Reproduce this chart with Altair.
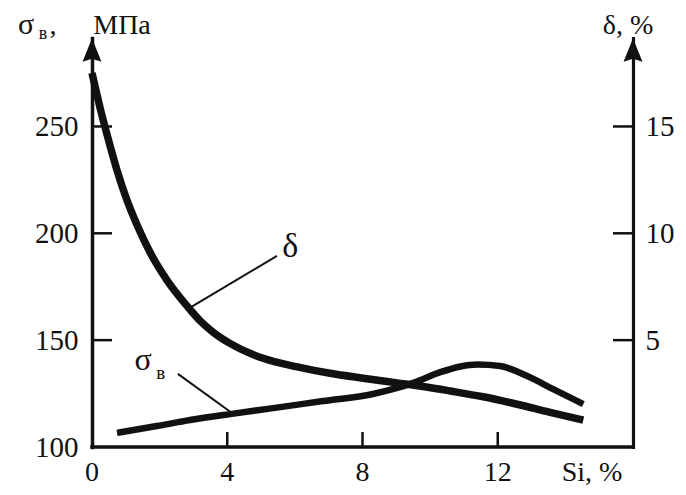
import altair as alt
import pandas as pd

# ---- data ----
si_delta = [0.0, 0.25, 0.5, 0.75, 1.0, 1.33, 1.72, 2.22, 2.81, 3.2, 3.6, 4.08, 5.06,
            6.07, 7.04, 8.02, 9.02, 9.79, 10.6, 11.57, 12.57, 13.55, 14.53]
delta = [17.5, 15.8, 14.3, 12.9, 11.7, 10.4, 9.1, 7.8, 6.6, 5.9, 5.35, 4.85, 4.15,
         3.75, 3.45, 3.22, 3.0, 2.83, 2.62, 2.35, 2.0, 1.62, 1.26]
si_sigma = [0.74, 1.92, 2.9, 4.08, 5.36, 6.83, 8.31, 9.0, 9.5, 10.3, 10.9, 11.4,
            12.07, 12.87, 13.64, 14.53]
sigma = [106.6, 109.8, 112.6, 115.4, 118.2, 121.5, 124.8, 127.5, 130.0, 135.0,
         137.7, 138.6, 137.9, 133.2, 127.1, 120.1]

x_ticks = [0, 4, 8, 12]
x_tick_marks = [4, 8, 12]
sigma_ticks = [100, 150, 200, 250]
sigma_tick_marks = [150, 200, 250]
delta_ticks = [5, 10, 15]

# annotation leader lines (data coordinates) and labels
lead_x1 = [5.47, 2.54]
lead_s1 = [189.4, 134.2]
lead_x2 = [2.84, 4.14]
lead_s2 = [164.6, 115.9]

X_DOM = [0, 16]
S_DOM = [100, 291.4]
D_DOM = [0, 19.14]
W, H = 541, 409
FONT = "Liberation Serif"
INK = "#111111"

xs = alt.Scale(domain=X_DOM, nice=False, zero=False)
ss = alt.Scale(domain=S_DOM, nice=False, zero=False)
ds = alt.Scale(domain=D_DOM, nice=False, zero=False)

sig_df = pd.DataFrame({"si": si_sigma, "v": sigma})
del_df = pd.DataFrame({"si": si_delta, "v": delta})

s_axis = alt.Axis(values=sigma_ticks, title=None, ticks=False, tickSize=0, grid=False,
                  domainColor=INK, domainWidth=3.5, domainCap="square",
                  labelFont=FONT, labelFontSize=29, labelColor=INK, labelPadding=14,
                  labelFlush=False, labelOverlap=False)
d_axis = alt.Axis(values=delta_ticks, title=None, ticks=False, tickSize=0, grid=False,
                  orient="right", domainColor=INK, domainWidth=3.2, domainCap="square",
                  labelFont=FONT, labelFontSize=29, labelColor=INK, labelPadding=12,
                  labelFlush=False, labelOverlap=False)

sig_line = alt.Chart(sig_df).mark_line(color=INK, strokeWidth=6.5, interpolate="monotone",
                                       strokeCap="butt").encode(
    x=alt.X("si:Q", scale=xs, axis=None),
    y=alt.Y("v:Q", scale=ss, axis=s_axis),
)
del_line = alt.Chart(del_df).mark_line(color=INK, strokeWidth=7.5, interpolate="monotone",
                                       strokeCap="butt").encode(
    x=alt.X("si:Q", scale=xs, axis=None),
    y=alt.Y("v:Q", scale=ds, axis=d_axis),
)

# bottom axis drawn by hand (domain line, inward ticks, labels)
x_domain = alt.Chart(pd.DataFrame({"a": [0]})).mark_rule(
    color=INK, strokeWidth=3.5, strokeCap="square").encode(
    x=alt.value(0), x2=alt.value(W), y=alt.value(H))
x_labels = alt.Chart(pd.DataFrame({"si": x_ticks})).mark_text(
    font=FONT, fontSize=28, color=INK, baseline="alphabetic", align="center").encode(
    x=alt.X("si:Q", scale=xs, axis=None), y=alt.value(H + 34), text="si:Q")

left_ticks = alt.Chart(pd.DataFrame({"v": sigma_tick_marks})).mark_rule(
    color=INK, strokeWidth=2.5).encode(
    y=alt.Y("v:Q", scale=ss, axis=None), x=alt.value(0), x2=alt.value(20))
right_ticks = alt.Chart(pd.DataFrame({"v": delta_ticks})).mark_rule(
    color=INK, strokeWidth=2.5).encode(
    y=alt.Y("v:Q", scale=ds, axis=None), x=alt.value(W - 20), x2=alt.value(W))
bottom_ticks = alt.Chart(pd.DataFrame({"si": x_tick_marks})).mark_rule(
    color=INK, strokeWidth=2.5).encode(
    x=alt.X("si:Q", scale=xs, axis=None), y=alt.value(H), y2=alt.value(H - 15))

arrow_shape = "M0,-1L0.8,1L0,0.75L-0.8,1Z"
arrows = alt.Chart(pd.DataFrame({"si": X_DOM})).mark_point(
    shape=arrow_shape, filled=True, color=INK, opacity=1, size=560).encode(
    x=alt.X("si:Q", scale=xs, axis=None),
    y=alt.value(12))

leaders = alt.Chart(pd.DataFrame({"x1": lead_x1, "y1": lead_s1, "x2": lead_x2, "y2": lead_s2})
                    ).mark_rule(color=INK, strokeWidth=2).encode(
    x=alt.X("x1:Q", scale=xs, axis=None), x2="x2:Q",
    y=alt.Y("y1:Q", scale=ss, axis=None), y2="y2:Q")

lab_df = pd.DataFrame({
    "si": [5.86, 1.51, 2.03],
    "v": [189.0, 136.0, 131.8],
    "t": ["δ", "σ", "в"],
    "fs": [34, 32, 19],
})
labels = alt.Chart(lab_df).mark_text(font=FONT, color=INK, baseline="alphabetic",
                                     align="center").encode(
    x=alt.X("si:Q", scale=xs, axis=None),
    y=alt.Y("v:Q", scale=ss, axis=None),
    text="t:N",
    size=alt.Size("fs:Q", scale=None, legend=None),
)

def txt(t, x, y, fs, align="center"):
    return alt.Chart(pd.DataFrame({"t": [t]})).mark_text(
        font=FONT, color=INK, fontSize=fs, baseline="alphabetic", align=align).encode(
        x=alt.value(x), y=alt.value(y), text="t:N")

titles = [
    txt("σ", -66, -4, 30),
    txt("в", -49, 1, 18),
    txt(",", -39, -4, 28),
    txt("МПа", 30, -4, 28),
    txt("δ, %", 536, -4, 28),
    txt("Si, %", 500, H + 34, 28),
]

chart = alt.layer(
    sig_line, del_line, x_domain, x_labels, left_ticks, right_ticks, bottom_ticks,
    arrows, leaders, labels, *titles
).resolve_scale(y="independent").properties(
    width=W, height=H,
    padding={"left": 84, "top": 30, "right": 45, "bottom": 40},
    autosize=alt.AutoSizeParams(type="none"),
    background="white",
).configure_view(stroke=None)

chart.save("out.html", embed_options={"renderer": "svg", "actions": False})
